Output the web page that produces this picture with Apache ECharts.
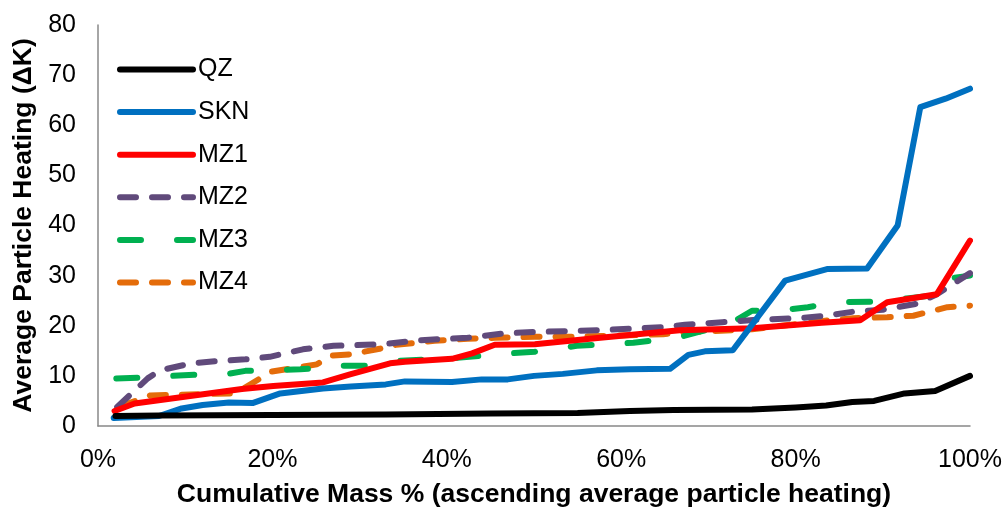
<!DOCTYPE html>
<html>
<head>
<meta charset="utf-8">
<script src="https://cdn.jsdelivr.net/npm/echarts@6/dist/echarts.min.js"></script>
<style>
  html, body { margin: 0; padding: 0; background: #fff; }
  #chart { width: 1006px; height: 513px; }
</style>
</head>
<body>
<div id="chart"></div>
<script>
// Average particle heating per sample, as [cumulative mass %, ΔK] pairs
const qzData = [[2, 2.0], [7, 2.1], [20, 2.2], [33, 2.3], [45, 2.5], [55, 2.6], [61, 3.0], [66, 3.2],
  [75, 3.3], [80, 3.7], [83.5, 4.1], [86.5, 4.8], [89, 5.0], [92.5, 6.5], [96, 7.0], [100, 10.0]];
const sknData = [[1.8, 1.6], [7, 2.0], [9.6, 3.5], [12, 4.2], [15, 4.7], [17.8, 4.6], [20.9, 6.5],
  [25.8, 7.5], [29, 7.9], [33, 8.3], [35.2, 8.9], [40.6, 8.8], [44, 9.3], [47, 9.3], [50, 10.0],
  [53.3, 10.4], [57.2, 11.1], [61, 11.3], [65.6, 11.4], [67.7, 14.2], [69.6, 14.9], [72.8, 15.1],
  [78.8, 29.0], [83.6, 31.3], [88.2, 31.4], [91.7, 40.0], [94.3, 63.6], [97.2, 65.3], [100, 67.3]];
const mz1Data = [[1.9, 3.0], [4.2, 4.5], [16.5, 7.4], [20.1, 8.0], [25.8, 8.7], [28.9, 10.3],
  [33.5, 12.5], [35.2, 12.8], [40.6, 13.4], [42.9, 14.5], [45.5, 16.2], [50.1, 16.3], [57, 17.5],
  [66.7, 19.1], [75, 19.5], [83, 20.6], [87.4, 21.1], [90.5, 24.7], [96.2, 26.3], [100, 37.0]];
const mz2Data = [[2.2, 3.8], [5.7, 9.5], [7.1, 11.1], [10.7, 12.5], [13.4, 12.9], [16.9, 13.3],
  [19.7, 13.8], [23.5, 15.3], [27, 16.0], [32.7, 16.3], [36.7, 17.1], [42.4, 17.6], [46.7, 18.5],
  [50.1, 18.75], [57.2, 19.1], [64.8, 19.7], [67.3, 20.2], [71.6, 20.7], [75.7, 21.2], [80.3, 21.5],
  [83.4, 22.0], [86.6, 22.8], [90, 23.2], [93.9, 24.4], [96.2, 26.3], [100, 30.5]];
const mz3Data = [[2.1, 9.5], [5.4, 9.7], [8.6, 10.0], [11.9, 10.3], [14.9, 10.4], [16.9, 11.0],
  [23.2, 11.3], [27.8, 12.0], [30.8, 12.0], [34.4, 13.0], [40.6, 13.5], [44, 14.0], [47, 14.5],
  [50.1, 14.8], [54.9, 16.0], [61.4, 16.6], [66.4, 17.6], [68.8, 18.75], [72.2, 20.1], [75, 23.0],
  [78, 23.0], [81.4, 23.7], [85, 24.7], [89, 24.8], [93, 25.5], [95.5, 26.0], [97, 29.3], [100, 30.0]];
const mz4Data = [[2.5, 3.9], [6, 6.1], [15.3, 6.5], [16.7, 7.5], [18.6, 9.5], [19.7, 10.8],
  [25.1, 12.3], [26.6, 14.0], [28.9, 14.3], [32.3, 15.4], [33.7, 16.1], [38.6, 17.0], [42.4, 17.4],
  [45.5, 17.6], [50.1, 17.8], [54.1, 17.8], [61, 18.1], [64.8, 18.3], [66.2, 18.6], [75, 19.3],
  [83.4, 21.0], [86.6, 21.5], [90.5, 21.7], [93.5, 22.0], [97.4, 23.7], [100, 24.0]];

const seriesNames = ['QZ', 'SKN', 'MZ1', 'MZ2', 'MZ3', 'MZ4'];
const seriesData = [qzData, sknData, mz1Data, mz2Data, mz3Data, mz4Data];

const xTitle = 'Cumulative Mass % (ascending average particle heating)';
const yTitle = 'Average Particle Heating (ΔK)';

const colors = ['#000000', '#0070C0', '#FF0000', '#604A7B', '#00B050', '#E46C0A'];
const dashes = ['solid', 'solid', 'solid', [16, 16], [21, 36], [16, 16]];
const FONT = 'Liberation Sans, Arial, sans-serif';

const chart = echarts.init(document.getElementById('chart'));
chart.setOption({
  animation: false,
  backgroundColor: '#ffffff',
  grid: { left: 98, right: 36, top: 25, bottom: 85, containLabel: false },
  legend: {
    orient: 'vertical',
    left: 117,
    top: 57,
    padding: 0,
    itemWidth: 73,
    itemHeight: 16,
    itemGap: 17.6,
    data: seriesNames,
    itemStyle: { opacity: 0 },
    lineStyle: { width: 6 },
    textStyle: { fontFamily: FONT, fontSize: 25, color: '#000' }
  },
  xAxis: {
    type: 'value',
    min: 0, max: 100, interval: 20,
    name: xTitle,
    nameLocation: 'middle',
    nameGap: 55,
    nameTextStyle: { fontFamily: FONT, fontSize: 26.5, fontWeight: 'bold', color: '#000' },
    axisLine: { show: true, lineStyle: { color: '#888888', width: 1.5 } },
    axisTick: { show: false },
    splitLine: { show: false },
    axisLabel: { formatter: '{value}%', margin: 22, fontFamily: FONT, fontSize: 25, color: '#000' }
  },
  yAxis: {
    type: 'value',
    min: 0, max: 80, interval: 10,
    name: yTitle,
    nameLocation: 'middle',
    nameGap: 56,
    nameTextStyle: { fontFamily: FONT, fontSize: 26.5, fontWeight: 'bold', color: '#000' },
    axisLine: { show: true, lineStyle: { color: '#888888', width: 1.5 } },
    axisTick: { show: false },
    splitLine: { show: false },
    axisLabel: { margin: 22, fontFamily: FONT, fontSize: 25, color: '#000' }
  },
  series: seriesNames.map((name, i) => ({
    name: name,
    type: 'line',
    data: seriesData[i],
    symbol: 'none',
    showSymbol: false,
    z: 10 - i,
    color: colors[i],
    lineStyle: { color: colors[i], width: 6, type: dashes[i], cap: 'round', join: 'round' }
  }))
});
</script>
</body>
</html>
